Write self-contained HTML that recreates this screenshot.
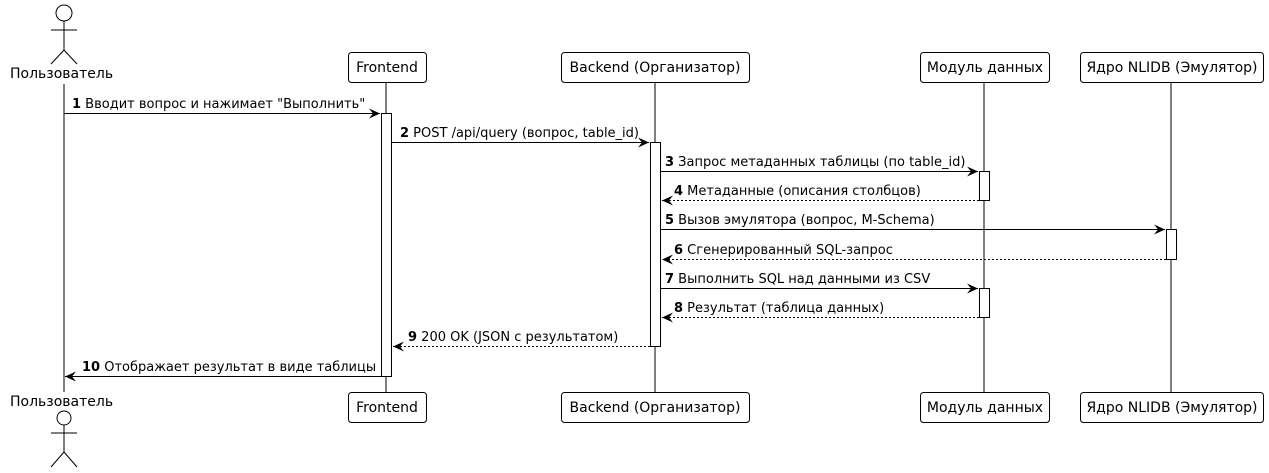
<!DOCTYPE html>
<html><head><meta charset="utf-8"><style>
html,body{margin:0;padding:0;background:#fff;}
svg{display:block;}
text{font-family:"DejaVu Sans","Liberation Sans",sans-serif;font-size:13px;fill:#000;}
.p{font-size:14px;}
.b{font-weight:bold;}
</style></head><body>
<svg width="1269" height="473" viewBox="0 0 1269 473" xmlns="http://www.w3.org/2000/svg">
<defs>
<marker id="a" markerWidth="12" markerHeight="10" refX="11" refY="5" orient="auto" markerUnits="userSpaceOnUse">
<path d="M0,0 L11,5 L0,10 L4,5 Z" fill="#000"/>
</marker>
</defs>
<g stroke="#000" stroke-width="1" fill="none">
<line x1="64" y1="84" x2="64" y2="392"/>
<line x1="386" y1="83" x2="386" y2="392"/>
<line x1="655" y1="83" x2="655" y2="392"/>
<line x1="984" y1="83" x2="984" y2="392"/>
<line x1="1171" y1="83" x2="1171" y2="392"/>
<circle cx="64" cy="13" r="8"/>
<line x1="64" y1="21" x2="64" y2="50"/>
<line x1="51" y1="30" x2="77" y2="30"/>
<line x1="64" y1="50" x2="51" y2="64"/>
<line x1="64" y1="50" x2="77" y2="64"/>
<circle cx="64" cy="418" r="7"/>
<line x1="64" y1="425" x2="64" y2="452"/>
<line x1="51" y1="433" x2="77" y2="433"/>
<line x1="64" y1="452" x2="51" y2="467"/>
<line x1="64" y1="452" x2="77" y2="467"/>
<rect x="348.5" y="52.5" width="78" height="30" rx="3"/>
<rect x="561.5" y="52.5" width="188" height="30" rx="3"/>
<rect x="920.5" y="52.5" width="129" height="30" rx="3"/>
<rect x="1080.5" y="52.5" width="183" height="30" rx="3"/>
<rect x="348.5" y="392.5" width="78" height="30" rx="3"/>
<rect x="561.5" y="392.5" width="188" height="30" rx="3"/>
<rect x="920.5" y="392.5" width="129" height="30" rx="3"/>
<rect x="1080.5" y="392.5" width="183" height="30" rx="3"/>
</g>
<g stroke="#000" stroke-width="1" fill="#fff">
<rect x="381.5" y="113.5" width="10" height="263"/>
<rect x="650.5" y="142.5" width="10" height="204"/>
<rect x="979.5" y="171.5" width="10" height="29"/>
<rect x="979.5" y="288.5" width="10" height="29"/>
<rect x="1166.5" y="229.5" width="10" height="30"/>
</g>
<g stroke="#000" stroke-width="1" fill="none">
<line x1="64" y1="113.5" x2="380" y2="113.5" marker-end="url(#a)"/>
<line x1="392" y1="142.5" x2="649" y2="142.5" marker-end="url(#a)"/>
<line x1="661" y1="171.5" x2="978" y2="171.5" marker-end="url(#a)"/>
<line x1="979" y1="200.5" x2="662" y2="200.5" stroke-dasharray="2,2" marker-end="url(#a)"/>
<line x1="661" y1="229.5" x2="1165" y2="229.5" marker-end="url(#a)"/>
<line x1="1166" y1="259.5" x2="662" y2="259.5" stroke-dasharray="2,2" marker-end="url(#a)"/>
<line x1="661" y1="288.5" x2="978" y2="288.5" marker-end="url(#a)"/>
<line x1="979" y1="317.5" x2="662" y2="317.5" stroke-dasharray="2,2" marker-end="url(#a)"/>
<line x1="650" y1="346.5" x2="393" y2="346.5" stroke-dasharray="2,2" marker-end="url(#a)"/>
<line x1="381" y1="376.5" x2="65" y2="376.5" marker-end="url(#a)"/>
</g>
<text class="p" x="10" y="78">Пользователь</text>
<text class="p" x="10" y="406">Пользователь</text>
<text class="p" x="387" y="72" text-anchor="middle">Frontend</text>
<text class="p" x="655" y="72" text-anchor="middle">Backend (Организатор)</text>
<text class="p" x="985" y="72" text-anchor="middle">Модуль данных</text>
<text class="p" x="1172" y="72" text-anchor="middle">Ядро NLIDB (Эмулятор)</text>
<text class="p" x="387" y="412" text-anchor="middle">Frontend</text>
<text class="p" x="655" y="412" text-anchor="middle">Backend (Организатор)</text>
<text class="p" x="985" y="412" text-anchor="middle">Модуль данных</text>
<text class="p" x="1172" y="412" text-anchor="middle">Ядро NLIDB (Эмулятор)</text>
<text x="72" y="108"><tspan class="b">1</tspan> Вводит вопрос и нажимает "Выполнить"</text>
<text x="400" y="137"><tspan class="b">2</tspan> POST /api/query (вопрос, table_id)</text>
<text x="665" y="166"><tspan class="b">3</tspan> Запрос метаданных таблицы (по table_id)</text>
<text x="674" y="195"><tspan class="b">4</tspan> Метаданные (описания столбцов)</text>
<text x="665" y="224"><tspan class="b">5</tspan> Вызов эмулятора (вопрос, M-Schema)</text>
<text x="674" y="254"><tspan class="b">6</tspan> Сгенерированный SQL-запрос</text>
<text x="665" y="283"><tspan class="b">7</tspan> Выполнить SQL над данными из CSV</text>
<text x="674" y="312"><tspan class="b">8</tspan> Результат (таблица данных)</text>
<text x="408" y="341"><tspan class="b">9</tspan> 200 OK (JSON с результатом)</text>
<text x="82" y="371"><tspan class="b">10</tspan> Отображает результат в виде таблицы</text>
</svg>
</body></html>
